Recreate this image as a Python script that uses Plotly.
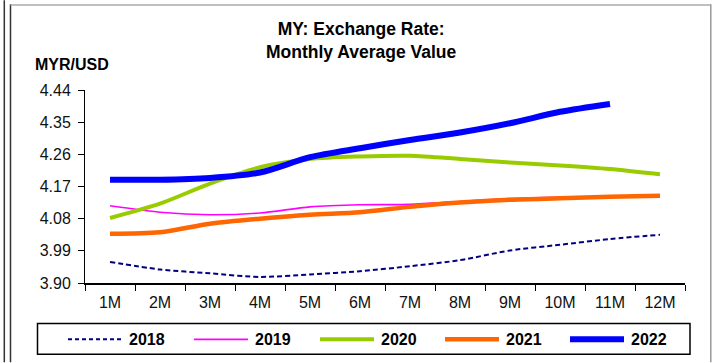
import plotly.graph_objects as go

# Monthly average MYR/USD exchange rate, by year
months = ["1M", "2M", "3M", "4M", "5M", "6M", "7M", "8M", "9M", "10M", "11M", "12M"]

rate_2018 = [3.959, 3.938, 3.927, 3.917, 3.924, 3.933, 3.947, 3.964, 3.991, 4.007, 4.023, 4.035]
rate_2019 = [4.116, 4.098, 4.091, 4.096, 4.113, 4.119, 4.120, 4.128, 4.136, 4.140, 4.141, 4.144]
rate_2020 = [4.082, 4.122, 4.178, 4.224, 4.247, 4.254, 4.256, 4.247, 4.237, 4.229, 4.219, 4.204]
rate_2021 = [4.038, 4.042, 4.066, 4.080, 4.091, 4.098, 4.113, 4.125, 4.133, 4.137, 4.141, 4.144]
rate_2022 = [4.189, 4.189, 4.194, 4.209, 4.252, 4.277, 4.300, 4.321, 4.347, 4.379, 4.401]

y_ticks = [3.90, 3.99, 4.08, 4.17, 4.26, 4.35, 4.44]

series_names = ["2018", "2019", "2020", "2021", "2022"]
series_values = [rate_2018, rate_2019, rate_2020, rate_2021, rate_2022]
series_colors = ["#000080", "#FF00FF", "#99CC00", "#FF6600", "#0000FF"]
series_widths = [2, 1.6, 4, 4.5, 6]
series_dash = ["5px,3px", "solid", "solid", "solid", "solid"]

W, H = 712, 363
L, R, T, B = 85, 685, 90, 283.5  # plot area in pixels


def px_x(x):
    return (x - L) / (R - L)


def px_y(y):
    return (B - y) / (B - T)


FONT = "Liberation Sans, Arial, sans-serif"

fig = go.Figure()
for name, vals, col, wd, dash in zip(series_names, series_values, series_colors,
                                     series_widths, series_dash):
    fig.add_trace(go.Scatter(
        x=months[:len(vals)], y=vals, name=name, mode="lines",
        line=dict(color=col, width=wd, dash=dash, shape="spline", smoothing=0.8),
        showlegend=False,
    ))

shapes = []
annotations = []

# Outer frame
shapes.append(dict(type="line", xref="paper", yref="paper",
                   x0=px_x(4.3), x1=px_x(4.3), y0=px_y(0), y1=px_y(H),
                   line=dict(color="#333333", width=1.5)))
shapes.append(dict(type="line", xref="paper", yref="paper",
                   x0=px_x(10.5), x1=px_x(10.5), y0=px_y(4), y1=px_y(H),
                   line=dict(color="#333333", width=1.5)))
shapes.append(dict(type="line", xref="paper", yref="paper",
                   x0=px_x(10.5), x1=px_x(711), y0=px_y(4.7), y1=px_y(4.7),
                   line=dict(color="#AAAAAA", width=1.5)))
shapes.append(dict(type="line", xref="paper", yref="paper",
                   x0=px_x(710.8), x1=px_x(710.8), y0=px_y(4), y1=px_y(H),
                   line=dict(color="#999999", width=1.5)))

# Legend box
shapes.append(dict(type="rect", xref="paper", yref="paper",
                   x0=px_x(37.5), x1=px_x(690), y0=px_y(324), y1=px_y(355),
                   line=dict(color="#000000", width=1.5), fillcolor="rgba(0,0,0,0)"))

legend_starts = [68, 194, 320, 445, 570]
legend_len = 54
legend_y = 340
for name, col, wd, dash, x0 in zip(series_names, series_colors, series_widths,
                                   series_dash, legend_starts):
    shapes.append(dict(type="line", xref="paper", yref="paper",
                       x0=px_x(x0), x1=px_x(x0 + legend_len),
                       y0=px_y(legend_y), y1=px_y(legend_y),
                       line=dict(color=col, width=wd,
                                 dash="4px,3px" if dash != "solid" else "solid")))
    annotations.append(dict(xref="paper", yref="paper",
                            x=px_x(x0 + legend_len + 5), y=px_y(legend_y),
                            xanchor="left", yanchor="middle", showarrow=False,
                            text="<b>%s</b>" % name,
                            font=dict(family=FONT, size=16, color="#000000")))

# Title and unit label
annotations.append(dict(xref="paper", yref="paper", x=px_x(361), y=px_y(40),
                        xanchor="center", yanchor="middle", showarrow=False,
                        text="<b>MY: Exchange Rate:<br>Monthly Average Value</b>",
                        font=dict(family=FONT, size=17.5, color="#000000")))
annotations.append(dict(xref="paper", yref="paper", x=px_x(33), y=px_y(64),
                        xanchor="left", yanchor="middle", showarrow=False,
                        text="<b>MYR/USD</b>",
                        font=dict(family=FONT, size=16, color="#000000")))

fig.update_layout(
    width=W, height=H,
    margin=dict(l=L, r=W - R, t=T, b=H - B, pad=0),
    paper_bgcolor="white", plot_bgcolor="white",
    shapes=shapes, annotations=annotations,
    showlegend=False,
    xaxis=dict(
        type="category", categoryorder="array", categoryarray=months,
        range=[-0.5, 11.5], tickson="boundaries",
        showline=True, linecolor="#000000", linewidth=1.5,
        ticks="outside", ticklen=6, tickcolor="#000000", tickwidth=1,
        ticklabelstandoff=4,
        showgrid=False, zeroline=False,
        tickfont=dict(family=FONT, size=16, color="#111111"),
    ),
    yaxis=dict(
        range=[3.90, 4.44], tickvals=y_ticks,
        ticktext=["%.2f" % v for v in y_ticks],
        showline=True, linecolor="#000000", linewidth=1,
        ticks="outside", ticklen=6, tickcolor="#000000", tickwidth=1,
        ticklabelstandoff=4,
        showgrid=False, zeroline=False,
        tickfont=dict(family=FONT, size=16, color="#111111"),
    ),
)

fig.write_html("out.html")
